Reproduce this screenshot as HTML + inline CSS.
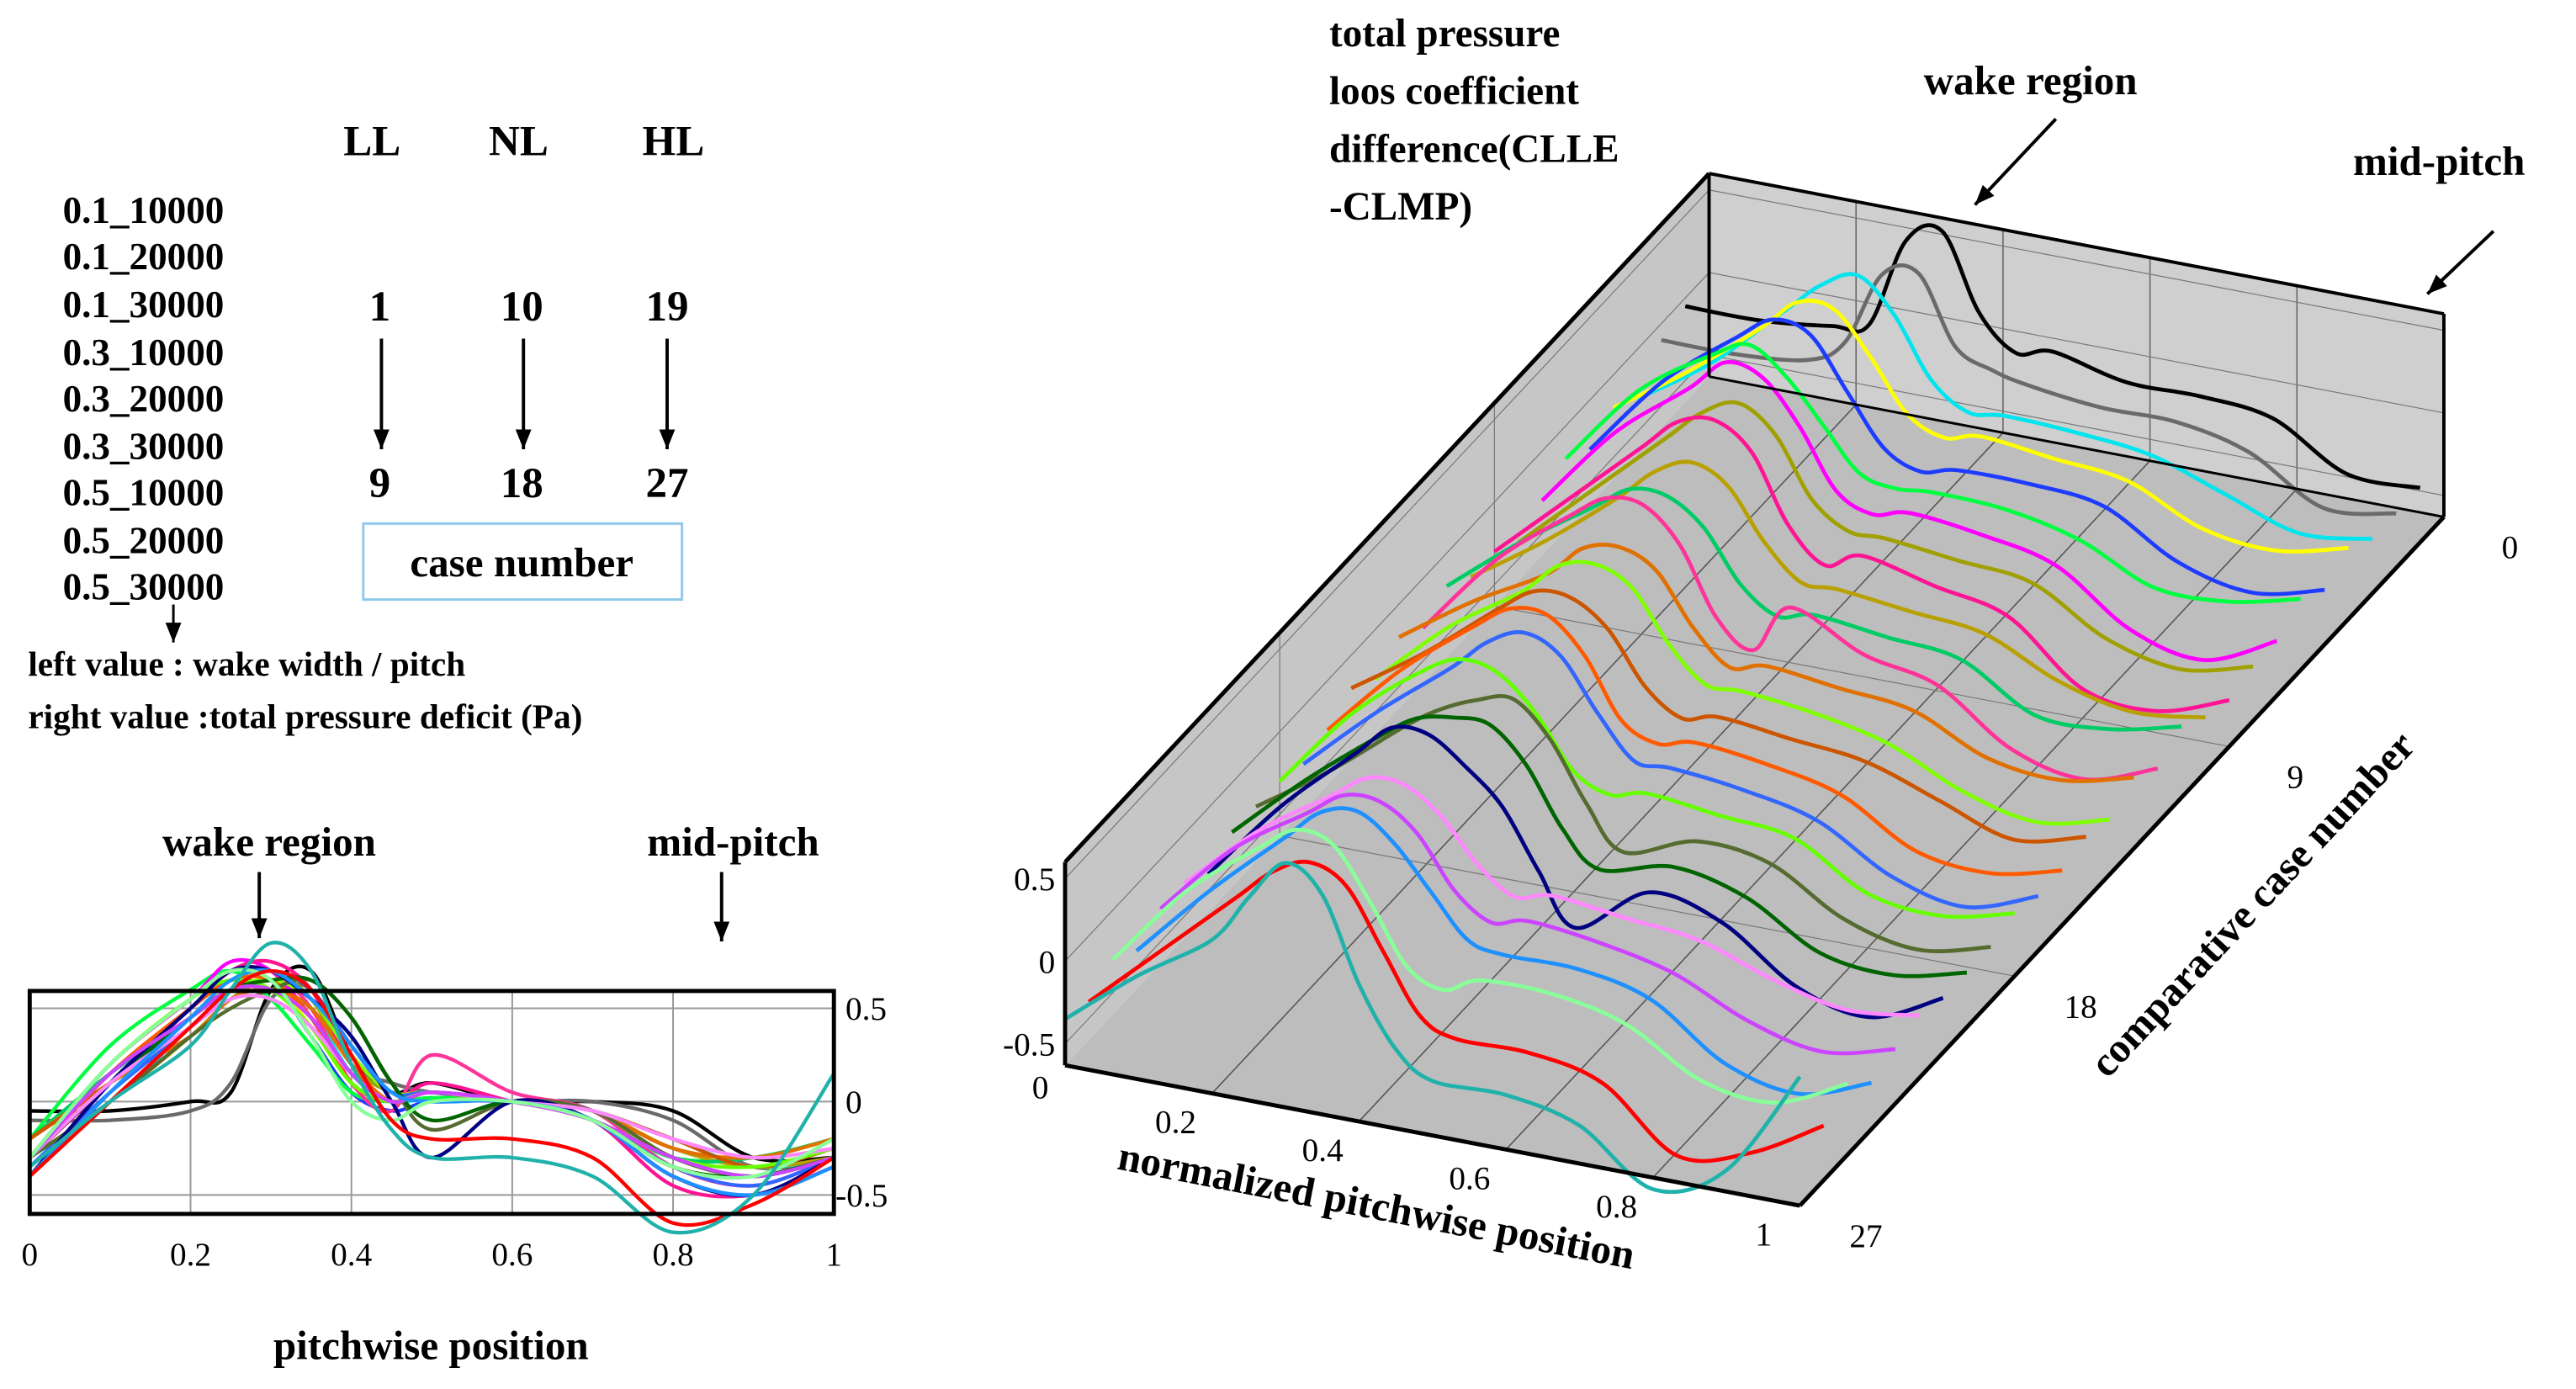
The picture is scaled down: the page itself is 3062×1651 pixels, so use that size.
<!DOCTYPE html>
<html><head><meta charset="utf-8"><style>
html,body{margin:0;padding:0;background:#fff;}
svg{display:block;}
text{font-family:"Liberation Serif",serif;font-weight:bold;fill:#000;}
text.n{font-weight:normal;}
</style></head><body>
<svg id="fig" width="3062" height="1651" viewBox="0 0 1560 841" preserveAspectRatio="none" xmlns="http://www.w3.org/2000/svg">
<defs>
<marker id="ah2" viewBox="0 0 10 10" refX="10" refY="5" markerWidth="12" markerHeight="12" orient="auto" markerUnits="userSpaceOnUse"><path d="M0,1 L10,5 L0,9 z" fill="#000"/></marker></defs>
<g id="legendText" font-size="23">
<text x="208" y="94" font-size="26">LL</text>
<text x="296" y="94" font-size="26">NL</text>
<text x="389" y="94" font-size="26">HL</text>
<text x="38" y="135">0.1_10000</text>
<text x="38" y="163">0.1_20000</text>
<text x="38" y="192">0.1_30000</text>
<text x="38" y="221">0.3_10000</text>
<text x="38" y="249">0.3_20000</text>
<text x="38" y="278">0.3_30000</text>
<text x="38" y="306">0.5_10000</text>
<text x="38" y="335">0.5_20000</text>
<text x="38" y="363">0.5_30000</text>
<text x="230" y="194" font-size="26" text-anchor="middle">1</text>
<text x="316" y="194" font-size="26" text-anchor="middle">10</text>
<text x="404" y="194" font-size="26" text-anchor="middle">19</text>
<text x="230" y="301" font-size="26" text-anchor="middle">9</text>
<text x="316" y="301" font-size="26" text-anchor="middle">18</text>
<text x="404" y="301" font-size="26" text-anchor="middle">27</text>
<line x1="231" y1="205" x2="231" y2="272" stroke="#000" stroke-width="2" marker-end="url(#ah2)"/>
<line x1="317" y1="205" x2="317" y2="272" stroke="#000" stroke-width="2" marker-end="url(#ah2)"/>
<line x1="404" y1="205" x2="404" y2="272" stroke="#000" stroke-width="2" marker-end="url(#ah2)"/>
<rect x="220" y="317" width="193" height="46" fill="none" stroke="#8fc8ea" stroke-width="1.5"/>
<text x="316" y="349" font-size="25" text-anchor="middle">case number</text>
<line x1="105" y1="366" x2="105" y2="389" stroke="#000" stroke-width="1.5" marker-end="url(#ah2)"/>
<text x="17" y="409" font-size="21">left value : wake width / pitch</text>
<text x="17" y="441" font-size="21">right value :total pressure deficit (Pa)</text>
</g>
<g id="left"></g>
<g id="right"></g>
</svg>
<script>
const xs=[0,0.1,0.2,0.25,0.3,0.35,0.4,0.45,0.5,0.6,0.7,0.8,0.9,1];
const colors=['#000000','#6a6a6a','#00e5ee','#ffff00','#1e3cff','#00ff40','#ff00ff','#a0a000','#ff1493','#b8a000','#00cc66','#ff3399','#e07000','#7fff00','#cc5500','#ff5a00','#3366ff','#66ff00','#556b2f','#006400','#000080','#ff88ff','#cc44ff','#1e90ff','#88ff99','#ff0000','#20b2aa'];
const s1=[-0.05,-0.05,0.0,0.05,0.6,0.7,0.25,0.05,0.1,0.0,0.0,-0.05,-0.3,-0.3];
const s2=[-0.1,-0.1,-0.05,0.1,0.55,0.6,0.2,0.1,0.05,0.0,0.0,-0.1,-0.35,-0.3];
const s3=[-0.3,0.0,0.4,0.6,0.7,0.5,0.15,0.0,0.02,0.0,-0.05,-0.2,-0.35,-0.3];
const s4=[-0.2,0.1,0.45,0.65,0.65,0.4,0.1,0.0,0.05,0.0,-0.05,-0.25,-0.3,-0.2];
const s5=[-0.3,0.2,0.55,0.7,0.65,0.35,0.05,-0.05,0.0,0.0,-0.05,-0.3,-0.4,-0.3];
const s6=[-0.2,0.3,0.6,0.7,0.55,0.3,0.05,0.0,0.02,0.0,-0.1,-0.3,-0.3,-0.2];
const s7=[-0.3,0.2,0.55,0.75,0.7,0.45,0.1,0.0,0.05,0.0,-0.1,-0.4,-0.5,-0.3];
const s8=[-0.4,0.0,0.4,0.6,0.7,0.55,0.2,0.05,0.05,0.0,-0.05,-0.3,-0.4,-0.3];
const s9=[-0.3,0.1,0.5,0.7,0.75,0.6,0.2,0.0,0.1,0.0,-0.1,-0.45,-0.5,-0.35];
const s10=[-0.3,0.0,0.35,0.55,0.65,0.55,0.25,0.05,0.05,0.0,-0.05,-0.25,-0.35,-0.3];
const s11=[-0.2,0.15,0.45,0.6,0.6,0.45,0.15,0.0,0.05,0.0,-0.05,-0.3,-0.3,-0.2];
const s12=[-0.3,0.2,0.55,0.7,0.7,0.5,0.1,-0.05,0.25,0.05,-0.05,-0.35,-0.45,-0.3];
const s13=[-0.2,0.1,0.35,0.55,0.6,0.5,0.2,0.0,0.05,0.0,-0.05,-0.25,-0.3,-0.2];
const s14=[-0.3,0.1,0.4,0.6,0.65,0.55,0.25,0.05,0.05,0.0,-0.1,-0.3,-0.4,-0.3];
const s15=[-0.2,0.1,0.45,0.6,0.6,0.45,0.15,0.0,0.05,0.0,-0.05,-0.2,-0.35,-0.25];
const s16=[-0.3,0.15,0.5,0.65,0.65,0.45,0.1,0.0,0.05,0.0,-0.1,-0.35,-0.4,-0.3];
const s17=[-0.35,0.05,0.4,0.6,0.7,0.6,0.3,0.05,0.05,0.0,-0.1,-0.35,-0.45,-0.3];
const s18=[-0.3,0.2,0.55,0.65,0.6,0.4,0.1,0.0,0.05,0.0,-0.05,-0.3,-0.35,-0.25];
const s19=[-0.3,0.0,0.35,0.5,0.6,0.65,0.45,0.1,-0.15,0.0,-0.05,-0.3,-0.4,-0.3];
const s20=[-0.3,0.1,0.45,0.6,0.65,0.65,0.45,0.1,-0.1,0.0,-0.1,-0.35,-0.4,-0.3];
const s21=[-0.4,0.1,0.5,0.7,0.7,0.55,0.35,0.0,-0.3,0.0,-0.1,-0.4,-0.5,-0.3];
const s22=[-0.3,0.1,0.4,0.55,0.55,0.4,0.15,0.0,0.05,0.0,-0.05,-0.2,-0.3,-0.25];
const s23=[-0.3,0.15,0.45,0.6,0.6,0.45,0.15,0.0,0.05,0.0,-0.1,-0.3,-0.4,-0.3];
const s24=[-0.4,0.05,0.45,0.65,0.7,0.55,0.3,0.05,0.0,0.0,-0.1,-0.4,-0.5,-0.35];
const s25=[-0.3,0.2,0.55,0.7,0.65,0.35,0.0,-0.1,0.0,0.0,-0.1,-0.35,-0.4,-0.2];
const s26=[-0.4,0.0,0.4,0.6,0.7,0.6,0.25,-0.1,-0.2,-0.2,-0.3,-0.65,-0.55,-0.3];
const s27=[-0.35,0.0,0.3,0.6,0.85,0.7,0.2,-0.15,-0.3,-0.3,-0.4,-0.7,-0.5,0.15];
const series=[s1,s2,s3,s4,s5,s6,s7,s8,s9,s10,s11,s12,s13,s14,s15,s16,s17,s18,s19,s20,s21,s22,s23,s24,s25,s26,s27];
const xTicks=['0','0.2','0.4','0.6','0.8','1'];
const xTickVals=[0,0.2,0.4,0.6,0.8,1];
const vTicks=['0.5','0','-0.5'];
const vTickVals=[0.5,0,-0.5];
const caseTicks=['0','9','18','27'];
const caseTickVals=[0,9,18,27];

const NS='http://www.w3.org/2000/svg';
function mk(tag,attrs,parent){const e=document.createElementNS(NS,tag);for(const k in attrs)e.setAttribute(k,attrs[k]);parent.appendChild(e);return e;}
function smooth(pts){let d='M'+pts[0][0].toFixed(1)+','+pts[0][1].toFixed(1);for(let i=0;i<pts.length-1;i++){const p0=pts[Math.max(0,i-1)],p1=pts[i],p2=pts[i+1],p3=pts[Math.min(pts.length-1,i+2)];const c1=[p1[0]+(p2[0]-p0[0])/6,p1[1]+(p2[1]-p0[1])/6],c2=[p2[0]-(p3[0]-p1[0])/6,p2[1]-(p3[1]-p1[1])/6];d+=' C'+c1.map(v=>v.toFixed(1))+' '+c2.map(v=>v.toFixed(1))+' '+p2[0].toFixed(1)+','+p2[1].toFixed(1);}return d;}

// ---- Left 2D chart ----
const L=document.getElementById('left');
const lx=t=>18+487*t, ly=v=>667-113*v;
xTickVals.forEach((t,i)=>{if(i>0&&i<5){const g=mk('line',{x1:lx(t),y1:600,x2:lx(t),y2:735,stroke:'#999','stroke-width':1},L);}
 const tx=mk('text',{x:lx(t),y:766,'text-anchor':'middle','font-size':20,class:'n'},L);tx.textContent=xTicks[i];
 
 });
vTickVals.forEach((v,i)=>{const g=mk('line',{x1:18,y1:ly(v),x2:505,y2:ly(v),stroke:'#999','stroke-width':1},L);
 
 
 const tx=mk('text',{x:v<0?506:512,y:ly(v)+7,'font-size':20,class:'n'},L);tx.textContent=vTicks[i];
 
 });
series.forEach((s,i)=>{const p=mk('path',{d:smooth(s.map((v,j)=>[lx(xs[j]),ly(v)])),fill:'none',stroke:colors[i],'stroke-width':2.2},L);
 
 });
const lb=mk('rect',{x:18,y:600,width:487,height:135,fill:'none',stroke:'#000','stroke-width':2.5},L);


[['wake region',163,518,'wake-region-label'],['mid-pitch',444,518,'mid-pitch-label'],['pitchwise position',261,823,'x-axis-title']].forEach(a=>{const t=mk('text',{x:a[1],y:a[2],'text-anchor':'middle','font-size':25},L);t.textContent=a[0];
 
 });
const a1=mk('line',{x1:157,y1:528,x2:157,y2:568,stroke:'#000','stroke-width':2,'marker-end':'url(#ah2)'},L);


const a2=mk('line',{x1:437,y1:528,x2:437,y2:570,stroke:'#000','stroke-width':2,'marker-end':'url(#ah2)'},L);



// ---- Right 3D chart ----
const R=document.getElementById('right');
const O=[645,645], EX=[445,85], EC=[390,-417], VMIN=-0.63, VS=100;
function P(t,c,v){const f=(27-c)/27;return [O[0]+t*EX[0]+f*EC[0], O[1]+t*EX[1]+f*EC[1]-(v-VMIN)*VS];}
const VTOP=0.6;
function poly(pts,attrs,name){const e=mk('polygon',Object.assign({points:pts.map(p=>p.join(',')).join(' ')},attrs),R);return e;}
poly([P(0,27,VMIN),P(1,27,VMIN),P(1,0,VMIN),P(0,0,VMIN)],{fill:'#bdbdbd',stroke:'none'},'floor');
poly([P(0,0,VMIN),P(1,0,VMIN),P(1,0,VTOP),P(0,0,VTOP)],{fill:'#cfcfcf',stroke:'none'},'back-wall');
poly([P(0,27,VMIN),P(0,0,VMIN),P(0,0,VTOP),P(0,27,VTOP)],{fill:'#c6c6c6',stroke:'none'},'left-wall');
function ln(a,b,w,col,name){const e=mk('line',{x1:a[0],y1:a[1],x2:b[0],y2:b[1],stroke:col,'stroke-width':w},R);}
[0.2,0.4,0.6,0.8].forEach(t=>{ln(P(t,27,VMIN),P(t,0,VMIN),0.8,'#555','floor-gridline');ln(P(t,0,VMIN),P(t,0,VTOP),0.8,'#666','back-wall-gridline');});
[9,18].forEach(c=>{ln(P(0,c,VMIN),P(1,c,VMIN),0.6,'#777','floor-case-gridline');ln(P(0,c,VMIN),P(0,c,VTOP),0.6,'#777','left-wall-gridline');});
vTickVals.forEach(v=>{ln(P(0,27,v),P(0,0,v),0.6,'#777','left-wall-hgrid');ln(P(0,0,v),P(1,0,v),0.6,'#777','back-wall-hgrid');});
for(let i=0;i<27;i++){const c=i+1;const s=series[i];
 const p=mk('path',{d:smooth(s.map((v,j)=>P(xs[j],c,v))),fill:'none',stroke:colors[i],'stroke-width':2.4},R);
 
 }
ln(P(0,27,VMIN),P(1,27,VMIN),2.5,'#000','front-edge');
ln(P(1,27,VMIN),P(1,0,VMIN),2.5,'#000','right-edge');
ln(P(0,27,VMIN),P(0,27,VTOP),2.5,'#000','front-left-edge');
ln(P(0,27,VTOP),P(0,0,VTOP),2.5,'#000','left-wall-top');
ln(P(0,0,VMIN),P(0,0,VTOP),2,'#000','back-left-edge');
ln(P(0,0,VTOP),P(1,0,VTOP),2,'#000','back-wall-top');
ln(P(1,0,VMIN),P(1,0,VTOP),2,'#000','back-right-edge');
ln(P(1,0,VMIN),P(0,0,VMIN),1.5,'#000','back-floor-edge');
vTickVals.forEach((v,i)=>{const p=P(0,27,v);const t=mk('text',{x:p[0]-6,y:p[1]+7,'text-anchor':'end','font-size':20,class:'n'},R);t.textContent=vTicks[i];
 
 });
xTickVals.forEach((tv,i)=>{const p=P(tv,27,VMIN);const t=mk('text',{x:p[0]+(i==0?-15:-22),y:p[1]+(i==0?20:24),'text-anchor':'middle','font-size':20,class:'n'},R);t.textContent=xTicks[i];
 
 });
caseTickVals.forEach((c,i)=>{const p=P(1,c,VMIN);const t=mk('text',{x:p[0]+40,y:p[1]+25,'text-anchor':'middle','font-size':20,class:'n'},R);t.textContent=caseTicks[i];
 
 });
function txt(s,x,y,fs,rot,anchor,name){const t=mk('text',{x:x,y:y,'font-size':fs,'text-anchor':anchor||'start'},R);if(rot)t.setAttribute('transform','rotate('+rot+' '+x+' '+y+')');t.textContent=s;}
txt('normalized pitchwise position',832,738,25,11,'middle','x3d-axis-title');
txt('comparative case number',1370,553,25,-47,'middle','case-axis-title');
txt('total pressure',805,28,24,0,'start','z-title-line1');
txt('loos coefficient',805,63,24,0,'start','z-title-line2');
txt('difference(CLLE',805,98,24,0,'start','z-title-line3');
txt('-CLMP)',805,133,24,0,'start','z-title-line4');
txt('wake region',1165,57,25,0,'start','wake-region-3d-label');
txt('mid-pitch',1425,106,25,0,'start','mid-pitch-3d-label');
const w1=mk('line',{x1:1245,y1:72,x2:1196,y2:124,stroke:'#000','stroke-width':2,'marker-end':'url(#ah2)'},R);


const w2=mk('line',{x1:1510,y1:140,x2:1470,y2:178,stroke:'#000','stroke-width':2,'marker-end':'url(#ah2)'},R);


</script>
</body></html>
